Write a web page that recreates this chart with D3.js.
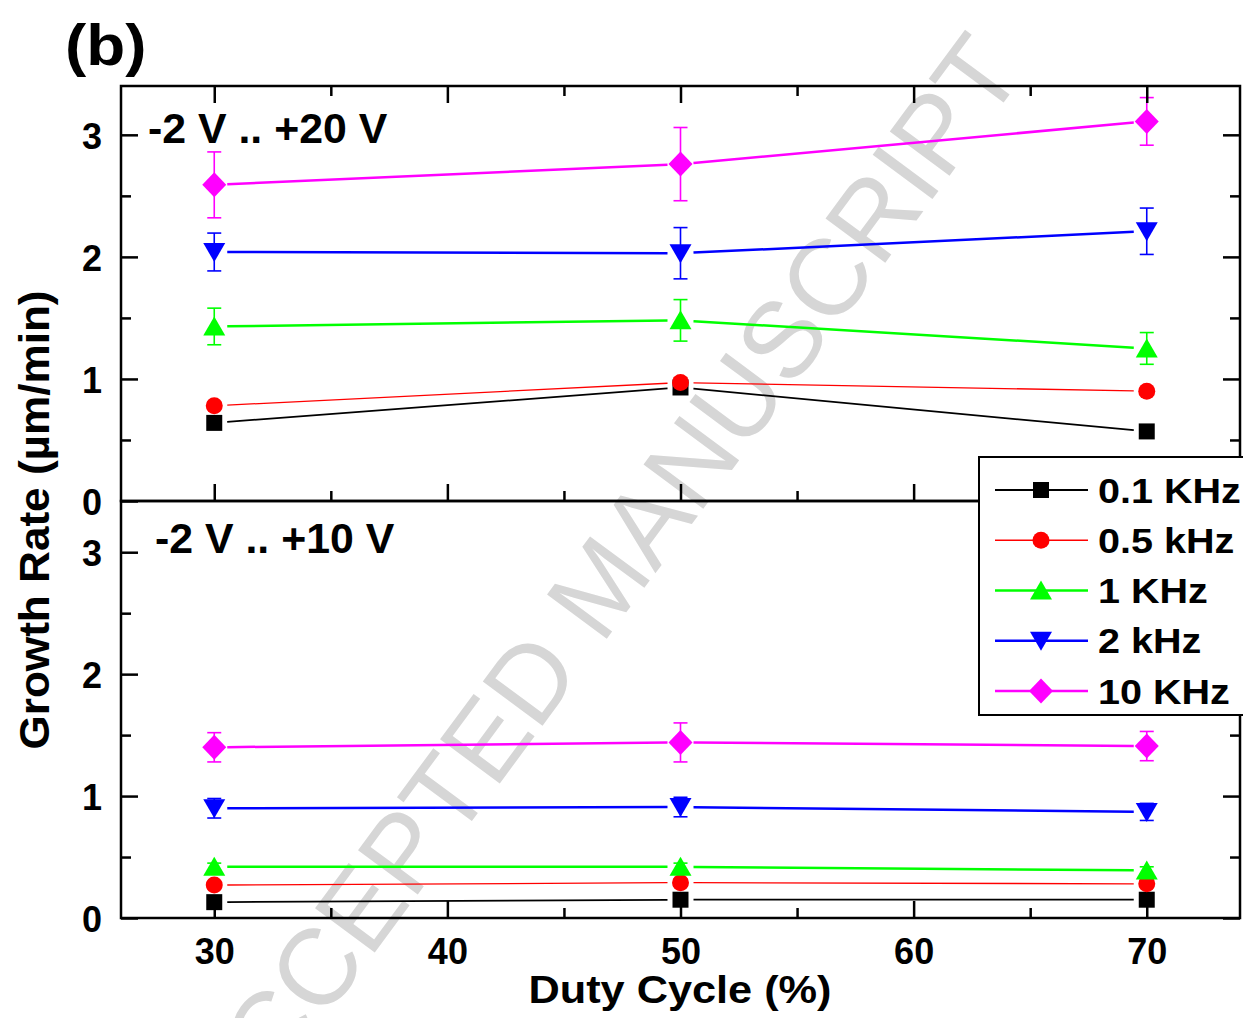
<!DOCTYPE html>
<html>
<head>
<meta charset="utf-8">
<script src="https://cdn.jsdelivr.net/npm/d3@7"></script>
<style>
  html, body { margin: 0; padding: 0; background: #fff; }
  svg { display: block; }
  text { font-family: "Liberation Sans", Arial, sans-serif; }
</style>
</head>
<body>
<script>
// Duty cycle settings (x) and frequency series
const dutyCycles = [30, 50, 70];
const frequencyLabels = ["0.1 KHz", "0.5 kHz", "1 KHz", "2 kHz", "10 KHz"];
const seriesColors = ["#000000", "#ff0000", "#00ff00", "#0000ff", "#ff00ff"];
const seriesShapes = ["square", "circle", "triangleUp", "triangleDown", "diamond"];
const seriesWidths = [1.8, 1.3, 2.5, 2.5, 2.5];

// Panel ticks
const xMajorTicks = [30, 40, 50, 60, 70];
const xMinorTicks = [35, 45, 55, 65];
const yMajorTicks = [0, 1, 2, 3];
const yMinorTicks = [0.5, 1.5, 2.5];

// -2 V .. +20 V : growth rate (µm/min) and error
const high01 = [0.64, 0.93, 0.57];
const high05 = [0.78, 0.97, 0.90];
const high1 = [1.43, 1.48, 1.25];
const high2 = [2.04, 2.03, 2.21];
const high10 = [2.59, 2.76, 3.11];
const high01Err = [0.03, 0.03, 0.03];
const high05Err = [0.03, 0.04, 0.03];
const high1Err = [0.15, 0.17, 0.13];
const high2Err = [0.155, 0.21, 0.19];
const high10Err = [0.27, 0.30, 0.195];

// -2 V .. +10 V : growth rate (µm/min) and error
const low01 = [0.13, 0.15, 0.15];
const low05 = [0.27, 0.29, 0.28];
const low1 = [0.42, 0.42, 0.39];
const low2 = [0.90, 0.91, 0.87];
const low10 = [1.40, 1.44, 1.41];
const low01Err = [0.02, 0.02, 0.02];
const low05Err = [0.03, 0.03, 0.03];
const low1Err = [0.03, 0.03, 0.03];
const low2Err = [0.08, 0.08, 0.07];
const low10Err = [0.12, 0.16, 0.12];

const panels = [
  { label: "-2 V .. +20 V", values: [high01, high05, high1, high2, high10],
    errors: [high01Err, high05Err, high1Err, high2Err, high10Err] },
  { label: "-2 V .. +10 V", values: [low01, low05, low1, low2, low10],
    errors: [low01Err, low05Err, low1Err, low2Err, low10Err] }
];

const W = 1243, H = 1018;
const frameLeft = 121, frameRight = 1240, frameTop = 86, frameMid = 501, frameBottom = 918;

const svg = d3.select("body").append("svg").attr("width", W).attr("height", H);
svg.append("rect").attr("width", W).attr("height", H).attr("fill", "#fff");

const FONT = "'Liberation Sans', Arial, sans-serif";

function stretch(sel, factor) {
  sel.each(function () {
    const w = this.getComputedTextLength();
    d3.select(this).attr("textLength", w * factor).attr("lengthAdjust", "spacingAndGlyphs");
  });
}

// Watermark behind the plot
svg.append("text")
  .attr("transform", "translate(600,585) rotate(-53.5)")
  .attr("text-anchor", "middle")
  .attr("dominant-baseline", "central")
  .attr("font-size", 108)
  .attr("fill", "#d6d6d6")
  .text("ACCEPTED MANUSCRIPT");

const x = d3.scaleLinear().domain([26, 74]).range([frameLeft, frameRight]);
const yScales = [
  d3.scaleLinear().domain([0, 3.4]).range([frameMid, frameTop]),
  d3.scaleLinear().domain([0, 3.42]).range([frameBottom, frameMid])
];

function symbolPath(shape) {
  if (shape === "square") return d3.symbol(d3.symbolSquare, 16 * 16)();
  if (shape === "circle") return d3.symbol(d3.symbolCircle, Math.PI * 8.5 * 8.5)();
  if (shape === "triangleUp") return "M0,-10L11,9L-11,9Z";
  if (shape === "triangleDown") return "M0,10L11,-9L-11,-9Z";
  if (shape === "diamond") return "M0,-12.5L12,0L0,12.5L-12,0Z";
}

const gap = 13;

panels.forEach((panel, pi) => {
  const y = yScales[pi];
  const g = svg.append("g");

  // connecting lines, stopped short of each marker
  panel.values.forEach((vals, si) => {
    for (let i = 0; i < dutyCycles.length - 1; i++) {
      const x0 = x(dutyCycles[i]), y0 = y(vals[i]);
      const x1 = x(dutyCycles[i + 1]), y1 = y(vals[i + 1]);
      const len = Math.hypot(x1 - x0, y1 - y0);
      const ux = (x1 - x0) / len, uy = (y1 - y0) / len;
      g.append("line")
        .attr("x1", x0 + ux * gap).attr("y1", y0 + uy * gap)
        .attr("x2", x1 - ux * gap).attr("y2", y1 - uy * gap)
        .attr("stroke", seriesColors[si]).attr("stroke-width", seriesWidths[si]);
    }
  });

  // error bars
  panel.values.forEach((vals, si) => {
    const errs = panel.errors[si];
    const eb = g.append("g").attr("stroke", seriesColors[si]).attr("stroke-width", 1.6);
    dutyCycles.forEach((d, i) => {
      const cx = x(d), yt = y(vals[i] + errs[i]), yb = y(vals[i] - errs[i]);
      eb.append("line").attr("x1", cx).attr("x2", cx).attr("y1", yt).attr("y2", yb);
      eb.append("line").attr("x1", cx - 7).attr("x2", cx + 7).attr("y1", yt).attr("y2", yt);
      eb.append("line").attr("x1", cx - 7).attr("x2", cx + 7).attr("y1", yb).attr("y2", yb);
    });
  });

  // markers
  panel.values.forEach((vals, si) => {
    g.selectAll(null).data(dutyCycles.map((d, i) => [d, vals[i]])).join("path")
      .attr("transform", d => `translate(${x(d[0])},${y(d[1])})`)
      .attr("d", () => symbolPath(seriesShapes[si]))
      .attr("fill", seriesColors[si]);
  });

  const y0px = y.range()[0], y1px = y.range()[1];

  // axes with inward ticks
  const styleAxis = a => {
    a.select(".domain").remove();
    a.selectAll("line").attr("stroke", "#000").attr("stroke-width", 2.5);
    a.selectAll("text").attr("font-family", FONT).attr("font-weight", "bold")
      .attr("font-size", 36).attr("fill", "#000");
  };

  svg.append("g").attr("transform", `translate(${frameLeft},0)`)
    .call(d3.axisLeft(y).tickValues(yMajorTicks).tickSize(-17).tickPadding(19).tickFormat(d3.format("d")))
    .call(styleAxis)
    .selectAll("text").attr("dy", "0.37em");
  svg.append("g").attr("transform", `translate(${frameLeft},0)`)
    .call(d3.axisLeft(y).tickValues(yMinorTicks).tickSize(-10).tickFormat(""))
    .call(styleAxis);
  svg.append("g").attr("transform", `translate(${frameRight},0)`)
    .call(d3.axisRight(y).tickValues(yMajorTicks).tickSize(-17).tickFormat(""))
    .call(styleAxis);
  svg.append("g").attr("transform", `translate(${frameRight},0)`)
    .call(d3.axisRight(y).tickValues(yMinorTicks).tickSize(-10).tickFormat(""))
    .call(styleAxis);

  if (pi === 0) {
    svg.append("g").attr("transform", `translate(0,${frameTop})`)
      .call(d3.axisTop(x).tickValues(xMajorTicks).tickSize(-17).tickFormat(""))
      .call(styleAxis);
    svg.append("g").attr("transform", `translate(0,${frameTop})`)
      .call(d3.axisTop(x).tickValues(xMinorTicks).tickSize(-10).tickFormat(""))
      .call(styleAxis);
    svg.append("g").attr("transform", `translate(0,${frameMid})`)
      .call(d3.axisBottom(x).tickValues(xMajorTicks).tickSize(-17).tickFormat(""))
      .call(styleAxis);
    svg.append("g").attr("transform", `translate(0,${frameMid})`)
      .call(d3.axisBottom(x).tickValues(xMinorTicks).tickSize(-10).tickFormat(""))
      .call(styleAxis);
  } else {
    svg.append("g").attr("transform", `translate(0,${frameBottom})`)
      .call(d3.axisBottom(x).tickValues(xMajorTicks).tickSize(-17).tickPadding(20).tickFormat(d3.format("d")))
      .call(styleAxis);
    svg.append("g").attr("transform", `translate(0,${frameBottom})`)
      .call(d3.axisBottom(x).tickValues(xMinorTicks).tickSize(-10).tickFormat(""))
      .call(styleAxis);
  }

  // panel frame
  svg.append("rect")
    .attr("x", frameLeft).attr("y", y1px).attr("width", frameRight - frameLeft).attr("height", y0px - y1px)
    .attr("fill", "none").attr("stroke", "#000").attr("stroke-width", 2.5);

  // voltage range label
  svg.append("text")
    .attr("x", pi === 0 ? 148 : 155).attr("y", pi === 0 ? 143 : 553)
    .attr("font-family", FONT).attr("font-weight", "bold").attr("font-size", 42)
    .text(panel.label)
    .call(stretch, 1.02);
});

// legend
const lg = svg.append("g");
lg.append("rect").attr("x", 979).attr("y", 457).attr("width", 290).attr("height", 258)
  .attr("fill", "#fff").attr("stroke", "#000").attr("stroke-width", 2);
const rowY = d3.scalePoint().domain(frequencyLabels).range([490, 691]);
frequencyLabels.forEach((lab, si) => {
  const ry = rowY(lab);
  lg.append("line").attr("x1", 995).attr("x2", 1088).attr("y1", ry).attr("y2", ry)
    .attr("stroke", seriesColors[si]).attr("stroke-width", seriesWidths[si]);
  lg.append("path").attr("transform", `translate(1041,${ry})`)
    .attr("d", symbolPath(seriesShapes[si])).attr("fill", seriesColors[si]);
  lg.append("text").attr("x", 1098).attr("y", ry + 12.5)
    .attr("font-family", FONT).attr("font-weight", "bold").attr("font-size", 35)
    .text(lab).call(stretch, 1.13);
});

// axis titles
svg.append("text")
  .attr("x", 680).attr("y", 1003).attr("text-anchor", "middle")
  .attr("font-family", FONT).attr("font-weight", "bold").attr("font-size", 39)
  .text("Duty Cycle (%)").call(stretch, 1.11);

svg.append("text")
  .attr("transform", "translate(49,520) rotate(-90)").attr("text-anchor", "middle")
  .attr("font-family", FONT).attr("font-weight", "bold").attr("font-size", 42)
  .text("Growth Rate (µm/min)").call(stretch, 1.05);

svg.append("text")
  .attr("x", 65).attr("y", 65)
  .attr("font-family", FONT).attr("font-weight", "bold").attr("font-size", 58)
  .text("(b)").call(stretch, 1.1);
</script>
</body>
</html>
